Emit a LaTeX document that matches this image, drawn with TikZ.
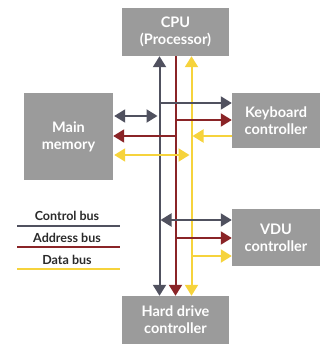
\documentclass[tikz,border=0pt]{standalone}
\usepackage{fontspec}
\setmainfont{Lato}
\usetikzlibrary{arrows.meta}
\definecolor{boxgray}{HTML}{9B9B9B}
\definecolor{ctlc}{HTML}{50515F}
\definecolor{adrc}{HTML}{8A2427}
\definecolor{datc}{HTML}{F6D33C}
\definecolor{legtext}{HTML}{2A2A2A}
\begin{document}
\begin{tikzpicture}[x=1pt,y=-1pt,
  box/.style={fill=boxgray,draw=none,text=white,align=center,font=\fontsize{14.5}{17}\selectfont\bfseries,inner sep=0pt},
  bus/.style={line width=2pt,arrows={-Triangle[length=11pt,width=13pt]}},
  dbl/.style={arrows={Triangle[length=11pt,width=13pt]-Triangle[length=11pt,width=13pt]}},
  ctl/.style={bus,draw=ctlc},
  adr/.style={bus,draw=adrc},
  dat/.style={bus,draw=datc},
  leg/.style={font=\fontsize{12.5}{14}\selectfont\bfseries,text=legtext,inner sep=0pt},
  legline/.style={line width=2.2pt}]
\useasboundingbox (0,0) rectangle (320,347);
% boxes
\node[box,minimum width=107pt,minimum height=48pt] (cpu) at (175.5,32) {CPU\\(Processor)};
\node[box,minimum width=89pt,minimum height=87pt] (mem) at (68.5,136.5) {Main\\memory};
\node[box,minimum width=88pt,minimum height=55pt] (kbd) at (276,120.5) {Keyboard\\controller};
\node[box,minimum width=88pt,minimum height=57pt] (vdu) at (276,237.5) {VDU\\controller};
\node[box,minimum width=107pt,minimum height=48pt] (hdd) at (175.5,320) {Hard drive\\controller};
% bus x-positions
\coordinate (cx) at (159.5,0);
\coordinate (ax) at (175.5,0);
\coordinate (dx) at (191.5,0);
% horizontal levels
\coordinate (y1) at (0,103);
\coordinate (y2) at (0,116);
\coordinate (y3) at (0,120);
\coordinate (y4) at (0,136);
\coordinate (y5) at (0,155);
\coordinate (y6) at (0,220);
\coordinate (y7) at (0,238);
\coordinate (y8) at (0,256);
% vertical buses
\draw[ctl,dbl] (cpu.south -| cx) -- (hdd.north -| cx);
\draw[adr] (cpu.south -| ax) -- (hdd.north -| ax);
\draw[dat,dbl] (cpu.south -| dx) -- (hdd.north -| dx);
% keyboard
\draw[ctl] (cx |- y1) -- (kbd.west |- y1);
\draw[adr] (ax |- y3) -- (kbd.west |- y3);
\draw[dat] (kbd.west |- y4) -- ([xshift=1pt]dx |- y4);
% main memory
\draw[ctl,dbl] ([xshift=1pt]mem.east |- y2) -- ([xshift=-2pt]cx |- y2);
\draw[adr] ([xshift=1pt]ax |- y4) -- (mem.east |- y4);
\draw[dat,dbl] ([xshift=1pt]mem.east |- y5) -- ([xshift=-2pt]dx |- y5);
% VDU
\draw[ctl,dbl] ([xshift=1pt]cx |- y6) -- (vdu.west |- y6);
\draw[adr] (ax |- y7) -- (vdu.west |- y7);
\draw[dat] (dx |- y8) -- (vdu.west |- y8);
% legend
\node[leg] (lc) at (67,216) {Control bus};
\node[leg] (la) at (67,238) {Address bus};
\node[leg] (ld) at (67,260) {Data bus};
\coordinate (lcl) at (17,226);
\coordinate (lcr) at (120,226);
\coordinate (lal) at (17,247);
\coordinate (lar) at (120,247);
\coordinate (ldl) at (17,269);
\coordinate (ldr) at (120,269);
\draw[legline,ctlc] (lcl) -- (lcr);
\draw[legline,adrc] (lal) -- (lar);
\draw[legline,datc] (ldl) -- (ldr);
\end{tikzpicture}
\end{document}
